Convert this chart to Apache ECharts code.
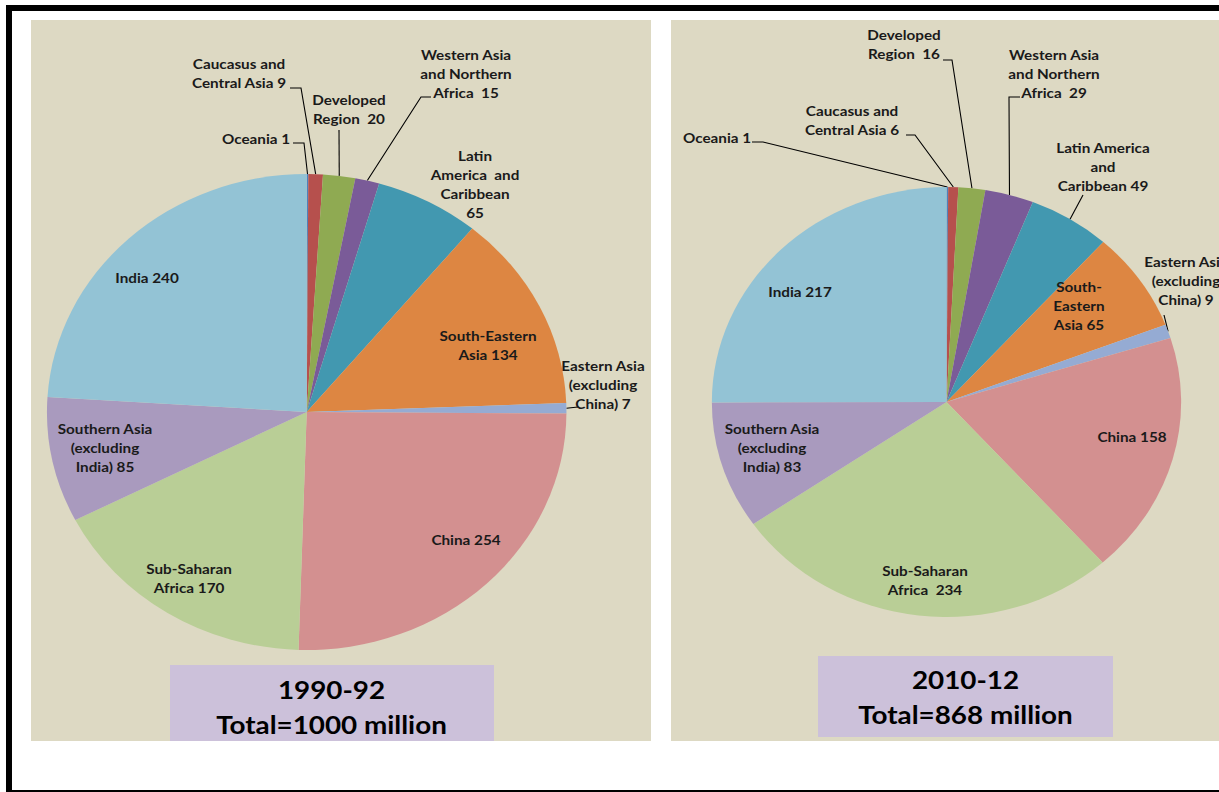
<!DOCTYPE html>
<html>
<head>
<meta charset="utf-8">
<title>Undernourishment by region</title>
<script src="https://cdn.jsdelivr.net/npm/echarts@6/dist/echarts.min.js"></script>
<style>
  html, body { margin: 0; padding: 0; background: #ffffff; overflow: hidden; }
  /* The chart is laid out on a narrower canvas and widened horizontally,
     so the pies come out slightly oval like the printed figure. */
  #chart { width: 1117px; height: 792px; transform-origin: 0 0; }
</style>
</head>
<body>
<div id="chart"></div>
<script>
// Regions, clockwise from 12 o'clock
var regions = [
  'Oceania', 'Caucasus and Central Asia', 'Developed Region',
  'Western Asia and Northern Africa', 'Latin America and Caribbean',
  'South-Eastern Asia', 'Eastern Asia (excluding China)', 'China',
  'Sub-Saharan Africa', 'Southern Asia (excluding India)', 'India'
];

// Millions of undernourished people
var values1990 = [1, 9, 20, 15, 65, 134, 7, 254, 170, 85, 240];
var values2010 = [1, 6, 16, 29, 49, 65, 9, 158, 234, 83, 217];

// Label text for each slice ({c} is replaced by the slice value)
var labels1990 = [
  'Oceania {c}', 'Caucasus and\nCentral Asia {c}', 'Developed\nRegion  {c}',
  'Western Asia\nand Northern\nAfrica  {c}', 'Latin\nAmerica  and\nCaribbean\n{c}',
  'South-Eastern\nAsia {c}', 'Eastern Asia\n(excluding\nChina) {c}', 'China {c}',
  'Sub-Saharan\nAfrica {c}', 'Southern Asia\n(excluding\nIndia) {c}', 'India {c}'
];
var labels2010 = [
  'Oceania {c}', 'Caucasus and\nCentral Asia {c}', 'Developed\nRegion  {c}',
  'Western Asia\nand Northern\nAfrica  {c}', 'Latin America\nand\nCaribbean {c}',
  'South-\nEastern\nAsia {c}', 'Eastern Asia\n(excluding\nChina) {c}', 'China {c}',
  'Sub-Saharan\nAfrica  {c}', 'Southern Asia\n(excluding\nIndia) {c}', 'India {c}'
];

var periodTitles = ['1990-92\nTotal=1000 million', '2010-12\nTotal=868 million'];

var sliceColors = ['#4F81BD', '#B6504D', '#8FAA52', '#7A5B98', '#4298B0', '#DD8642',
                   '#95ABD3', '#D39090', '#B9CE96', '#A99ABE', '#93C3D5'];

// ---- layout ----
var SX = 1219 / 1117;           // horizontal widening applied to the chart box
var FONT = 'Lato, "Open Sans", sans-serif';

// pie centres / radii in final page pixels
var pies = [
  { cx: 306.7, cy: 412, r: 238 },
  { cx: 946.5, cy: 402, r: 215 }
];

// label centres (final page pixels)
var labelSpots = [
  [[256,139],[239,73],[349,109],[466,74],[475,184],[488,345],
   [603,385],[466,540],[189,578],[105,448],[147,278]],
  [[717,138],[852,120],[904,44],[1054,74],[1103,167],[1079,306],
   [1186,281],[1132,437],[925,580],[772,448],[800,292]]
];

// leader-line ends near each label, listed from the label side inwards
// (null = no leader line for that slice)
var leaderEnds = [
  [[[293,143],[304,143]], [[290,88],[301,88]], [[339,130]], [[431,97],[421,97]], null, null,
   [[578,407]], null, null, null, null],
  [[[752,142],[763,142]], [[906,135],[915,135]], [[943,60],[952,60]], [[1020,97],[1009,97]],
   [[1083,195]], null, [[1164,315]], null, null, null, null]
];

var chartEl = document.getElementById('chart');
chartEl.style.transform = 'scaleX(' + SX + ')';
var chart = echarts.init(chartEl, null, { renderer: 'svg' });

function px(x) { return x / SX; }

// point on the rim of a slice at its middle angle (unscaled chart pixels)
function rimPoint(idx, values, i) {
  var total = values.reduce(function (a, b) { return a + b; }, 0);
  var before = 0;
  for (var k = 0; k < i; k++) before += values[k];
  var ang = (before + values[i] / 2) / total * 2 * Math.PI;
  var p = pies[idx];
  return [px(p.cx) + p.r * Math.sin(ang), p.cy - p.r * Math.cos(ang)];
}

function buildData(values, labels, idx) {
  return values.map(function (v, i) {
    return {
      name: regions[i],
      value: v,
      label: { formatter: labels[i] },
      labelLine: { show: !!leaderEnds[idx][i] }
    };
  });
}

function pieSeries(idx, values, labels) {
  var p = pies[idx];
  return {
    type: 'pie',
    center: [px(p.cx), p.cy],
    radius: p.r,
    startAngle: 90,
    clockwise: true,
    avoidLabelOverlap: false,
    silent: true,
    animation: false,
    data: buildData(values, labels, idx),
    itemStyle: { borderWidth: 0 },
    label: {
      show: true,
      position: 'outside',
      color: '#1a1a1a',
      fontFamily: FONT,
      fontWeight: 'bold',
      fontSize: 14,
      lineHeight: 19,
      align: 'center'
    },
    labelLine: {
      length: 10,
      length2: 6,
      smooth: false,
      lineStyle: { color: '#000000', width: 1 }
    },
    labelLayout: function (prm) {
      var i = prm.dataIndex;
      var s = labelSpots[idx][i];
      var out = { x: px(s[0]), y: s[1], align: 'center', verticalAlign: 'middle' };
      var ends = leaderEnds[idx][i];
      if (ends) {
        var pts = ends.map(function (e) { return [px(e[0]), e[1]]; });
        pts.push(rimPoint(idx, values, i));
        out.labelLinePoints = pts.reverse();
      }
      return out;
    }
  };
}

var titleStyle = { fontFamily: FONT, fontWeight: 'bold', fontSize: 25.5, lineHeight: 35, color: '#000' };

var option = {
  backgroundColor: '#ffffff',
  color: sliceColors,
  title: [
    { text: periodTitles[0], left: px(331.5), top: 672, textAlign: 'center', padding: 0, textStyle: titleStyle },
    { text: periodTitles[1], left: px(965.5), top: 662, textAlign: 'center', padding: 0, textStyle: titleStyle }
  ],
  graphic: [
    // panel backgrounds
    { type: 'rect', z: 0, shape: { x: px(31), y: 20, width: px(651) - px(31), height: 721 }, style: { fill: '#DDD9C3' } },
    { type: 'rect', z: 0, shape: { x: px(671), y: 20, width: px(1219) - px(671), height: 721 }, style: { fill: '#DDD9C3' } },
    // caption boxes
    { type: 'rect', z: 1, shape: { x: px(170), y: 665, width: px(494) - px(170), height: 76 }, style: { fill: '#CCC1DA' } },
    { type: 'rect', z: 1, shape: { x: px(818), y: 656, width: px(1113) - px(818), height: 81 }, style: { fill: '#CCC1DA' } },
    // frame
    { type: 'rect', z: 3, shape: { x: px(6), y: 5, width: px(1219) - px(6), height: 6 }, style: { fill: '#000' } },
    { type: 'rect', z: 3, shape: { x: px(6), y: 5, width: px(12) - px(6), height: 787 }, style: { fill: '#000' } },
    { type: 'rect', z: 3, shape: { x: px(6), y: 790, width: px(1219) - px(6), height: 2 }, style: { fill: '#000' } }
  ],
  series: [
    pieSeries(0, values1990, labels1990),
    pieSeries(1, values2010, labels2010)
  ]
};

chart.setOption(option);
</script>
</body>
</html>
